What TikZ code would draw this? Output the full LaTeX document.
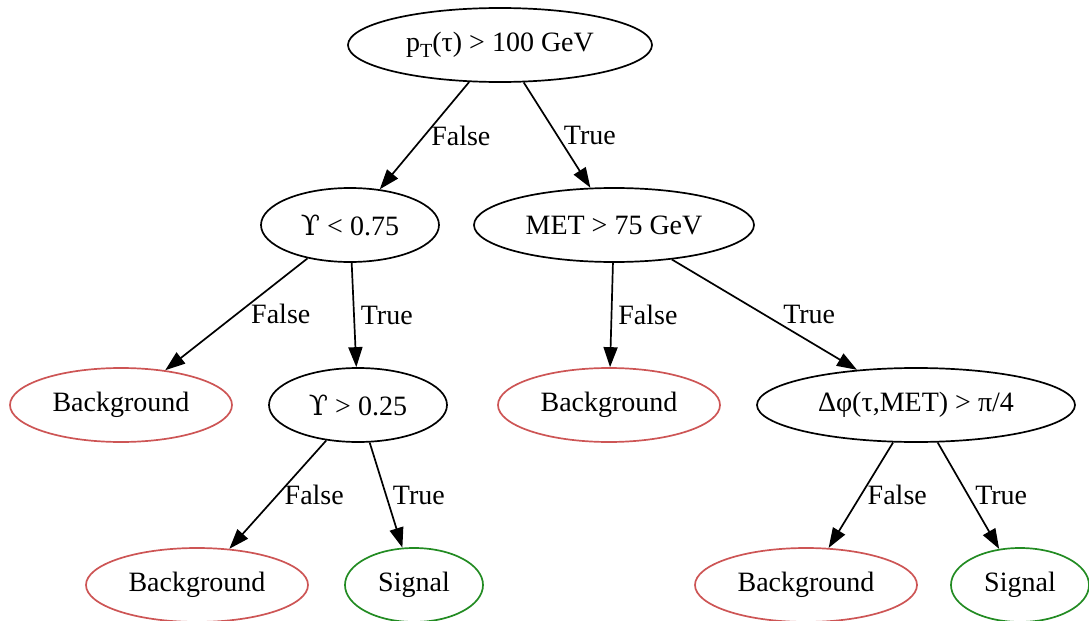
\documentclass[tikz,border=0pt]{standalone}
\usepackage{fontspec}
\setmainfont{Liberation Serif}
\newfontfamily\symfont{DejaVu Serif}
\usetikzlibrary{arrows.meta,shapes.geometric}
\definecolor{bgrot}{RGB}{205,85,85}
\definecolor{siggruen}{RGB}{34,139,34}
\tikzset{
  knoten/.style={draw,ellipse,line width=0.85pt,inner sep=0pt,minimum height=37pt,font=\fontsize{14}{16}\selectfont},
  bgknoten/.style={knoten,draw=bgrot,minimum width=111pt},
  sigknoten/.style={knoten,draw=siggruen,minimum width=69pt},
  pfeil/.style={-{Triangle[length=10pt,width=7pt]},line width=0.85pt},
  lbl/.style={right,pos=0.5,inner sep=3pt,font=\fontsize{14}{16}\selectfont}
}
\newcommand{\Ups}{{\symfont\symbol{"03D2}}}
\begin{document}
\begin{tikzpicture}[x=0.5pt,y=-0.5pt]
\useasboundingbox (0,0) rectangle (1089,621);
%Schnitte
\node[knoten,minimum width=152pt] (wurzel) at (500,45) {p\raisebox{-0.45ex}{\fontsize{10}{10}\selectfont T}(τ) > 100 GeV};
\node[knoten,minimum width=89pt] (upsA) at (350,225) {\Ups{} < 0.75};
\node[knoten,minimum width=140pt] (met) at (614,225) {MET > 75 GeV};
\node[knoten,minimum width=89pt] (upsB) at (358,405) {\Ups{} > 0.25};
\node[knoten,minimum width=159pt] (dphi) at (916,405) {Δφ(τ,MET) > π/4};
%Blaetter
\node[bgknoten] (bgA) at (121,405) {Background};
\node[bgknoten] (bgB) at (609,405) {Background};
\node[bgknoten] (bgC) at (197,585) {Background};
\node[sigknoten] (sigA) at (414,585) {Signal};
\node[bgknoten] (bgD) at (806,585) {Background};
\node[sigknoten] (sigB) at (1020,585) {Signal};
%Kanten
\draw[pfeil] (wurzel) -- node[lbl] {False} (upsA);
\draw[pfeil] (wurzel) -- node[lbl] {True} (met);
\draw[pfeil] (upsA) -- node[lbl,xshift=4pt] {False} (bgA);
\draw[pfeil] (upsA) -- node[lbl] {True} (upsB);
\draw[pfeil] (met) -- node[lbl] {False} (bgB);
\draw[pfeil] (met) -- node[lbl,xshift=6pt] {True} (dphi);
\draw[pfeil] (upsB) -- node[lbl] {False} (bgC);
\draw[pfeil] (upsB) -- node[lbl] {True} (sigA);
\draw[pfeil] (dphi) -- node[lbl] {False} (bgD);
\draw[pfeil] (dphi) -- node[lbl] {True} (sigB);
\end{tikzpicture}
\end{document}
